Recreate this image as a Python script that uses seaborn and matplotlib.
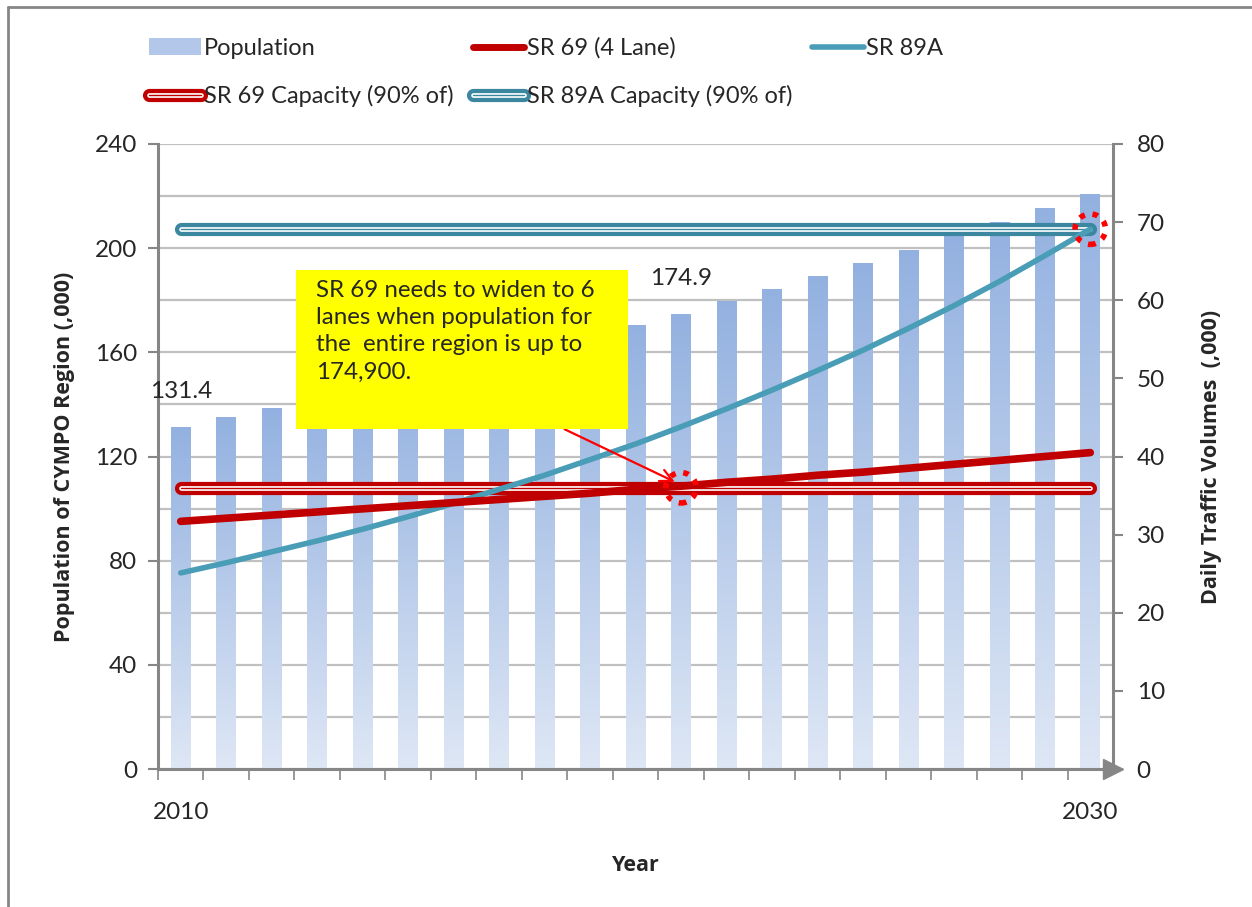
import numpy as np
import pandas as pd
import matplotlib
matplotlib.use("Agg")
import matplotlib.pyplot as plt
import matplotlib.patheffects as pe
from matplotlib.patches import Patch, Rectangle
from matplotlib.lines import Line2D
from matplotlib.colors import LinearSegmentedColormap
import seaborn as sns

# =========================================================
# Data
# =========================================================
years = list(range(2010, 2031))
population = [131.4, 135.2, 138.6, 142.1, 145.8, 149.7, 153.6, 157.7, 161.8, 166.1,
              170.5, 174.9, 179.8, 184.3, 189.3, 194.3, 199.3, 204.6, 210.0, 215.5, 220.8]
sr69 = [31.7, 32.1, 32.5, 32.9, 33.3, 33.7, 34.1, 34.5, 34.9, 35.3,
        35.8, 36.2, 36.7, 37.1, 37.6, 38.0, 38.5, 39.0, 39.5, 40.0, 40.5]
sr89a = [25.1, 26.4, 27.8, 29.2, 30.7, 32.3, 34.0, 35.8, 37.6, 39.6,
         41.6, 43.8, 46.1, 48.5, 51.0, 53.6, 56.4, 59.3, 62.4, 65.7, 69.1]
sr69_capacity = 36.0
sr89a_capacity = 69.1
labeled_years = [2010, 2021]
flag_points = [(2021, sr69_capacity), (2030, sr89a_capacity)]
note = "SR 69 needs to widen to 6\nlanes when population for\nthe  entire region is up to\n174,900."

# =========================================================
# Style
# =========================================================
RED = "#C00000"
TEAL = "#4A9DB6"
TEAL_CAP = "#3A879F"
GRAY = "#868686"
GRID = "#C0C0C0"
BAR_TOP = "#93B1E0"
BAR_BOTTOM = "#DEE7F5"
BOLD_FONT = ["Open Sans", "DejaVu Sans"]
TICK_FS = 17.5
LABEL_FS = 15.5

sns.set_theme(style="white")
plt.rcParams["font.family"] = ["Lato", "DejaVu Sans"]
plt.rcParams["font.size"] = 17

df = pd.DataFrame({"year": years, "population": population})
pos = np.arange(len(years))

fig = plt.figure(figsize=(12.52, 9.07), dpi=100)
ax = fig.add_axes([158 / 1252, 1 - 769 / 907, (1113 - 158) / 1252, (769 - 144) / 907])

# ---- bars (population) with vertical gradient ----
sns.barplot(data=df, x="year", y="population", ax=ax, width=0.43,
            color=BAR_TOP, saturation=1, zorder=2)
cmap = LinearSegmentedColormap.from_list("bar", [BAR_BOTTOM, BAR_TOP])
grad = np.linspace(0, 1, 256).reshape(-1, 1)
for p in ax.patches:
    x0, w, h = p.get_x(), p.get_width(), p.get_height()
    im = ax.imshow(grad, extent=[x0, x0 + w, 0, h], origin="lower", cmap=cmap,
                   aspect="auto", zorder=2)
    im.set_clip_path(p)
    p.set_facecolor("none")
    p.set_edgecolor("none")

ax.set_xlim(-0.5, len(years) - 0.5)
ax.set_ylim(0, 240)
ax.set_yticks(np.arange(0, 241, 40))
ax.set_yticks(np.arange(20, 241, 40), minor=True)
ax.grid(axis="y", which="both", color=GRID, lw=1.6, zorder=0)
ax.grid(axis="x", visible=False)
ax.set_axisbelow(True)
ax.tick_params(axis="y", which="major", direction="out", length=7, width=1.5,
               color=GRAY, labelsize=TICK_FS, pad=8, left=True)
ax.tick_params(axis="y", which="minor", length=0)

# x axis: tick marks at category boundaries, labels only at the ends
ax.set_xticks([0, len(years) - 1])
ax.set_xticklabels([str(years[0]), str(years[-1])])
ax.set_xticks(np.arange(-0.5, len(years) - 1, 1.0), minor=True)
ax.tick_params(axis="x", which="major", length=0, labelsize=TICK_FS, pad=24)
ax.tick_params(axis="x", which="minor", direction="out", length=8, width=1.2,
               color=GRAY, bottom=True)

for side in ["top", "right"]:
    ax.spines[side].set_visible(False)
for side in ["left", "bottom"]:
    ax.spines[side].set_color(GRAY)
    ax.spines[side].set_linewidth(2.2)
ax.plot([1.0], [0.0], marker=">", ms=14, color=GRAY, transform=ax.transAxes,
        clip_on=False, zorder=5)

ax.set_xlabel("Year", fontsize=LABEL_FS, fontweight="bold", family=BOLD_FONT, labelpad=23)
ax.set_ylabel("Population of CYMPO Region (,000)", fontsize=LABEL_FS, fontweight="bold",
              family=BOLD_FONT, labelpad=14)

for yr in labeled_years:
    i = years.index(yr)
    ax.annotate(f"{population[i]:.1f}", (i, population[i]), xytext=(0, 18),
                textcoords="offset points", ha="center", va="bottom", fontsize=17.5)

# ---- traffic lines on the right axis ----
ax2 = ax.twinx()
ax2.set_ylim(0, 80)
ax2.set_yticks(np.arange(0, 81, 10))
ax2.tick_params(axis="y", direction="out", length=7, width=1.5, color=GRAY,
                labelsize=TICK_FS, pad=10, right=True)
for side in ["top", "left", "bottom"]:
    ax2.spines[side].set_visible(False)
ax2.spines["right"].set_color(GRAY)
ax2.spines["right"].set_linewidth(2.2)
ax2.set_ylabel("Daily Traffic Volumes  (,000)", fontsize=LABEL_FS, fontweight="bold",
               family=BOLD_FONT, labelpad=26)
ax2.grid(False)


def capacity_line(value, color, label):
    ln, = ax2.plot(pos, [value] * len(pos), color=color, lw=1.0,
                   solid_capstyle="round", label=label, zorder=3,
                   path_effects=[pe.Stroke(linewidth=9.5, foreground=color, capstyle="round"),
                                 pe.Stroke(linewidth=3.4, foreground="white"),
                                 pe.Normal()])
    return ln


cap69 = capacity_line(sr69_capacity, RED, "SR 69 Capacity (90% of)")
cap89 = capacity_line(sr89a_capacity, TEAL_CAP, "SR 89A Capacity (90% of)")
sns.lineplot(x=pos, y=sr89a, ax=ax2, color=TEAL, lw=4, zorder=4, legend=False)
sns.lineplot(x=pos, y=sr69, ax=ax2, color=RED, lw=5.5, zorder=4, legend=False)
for ln in ax2.lines[-2:]:
    ln.set_solid_capstyle("round")

fx = [years.index(y) for y, _ in flag_points]
fy = [v for _, v in flag_points]
ax2.scatter(fx, fy, s=480, facecolors="none", edgecolors="#FF0000", linewidths=4,
            linestyle=(0, (1, 1.4)), zorder=6, clip_on=False)

# ---- annotation box + arrow ----
fig.patches.append(Rectangle((296 / 1252, 1 - 429 / 907), (628 - 296) / 1252,
                             (429 - 270) / 907, transform=fig.transFigure,
                             facecolor="#FFFF00", edgecolor="none", zorder=10))
fig.text(316 / 1252, 1 - 280 / 907, note, ha="left", va="top", fontsize=17.4,
         linespacing=1.36, zorder=11)
ax2.annotate("", xy=(years.index(2021) - 0.08, sr69_capacity + 0.6),
             xytext=(562 / 1252, 1 - 428 / 907), textcoords="figure fraction",
             arrowprops=dict(arrowstyle="->", color="#FF0000", lw=1.6,
                             mutation_scale=22), zorder=12)

# ---- legend ----
handles = [
    Patch(facecolor="#B3C7EA", edgecolor="none", label="Population"),
    cap69,
    Line2D([], [], color=RED, lw=5, solid_capstyle="round", label="SR 69 (4 Lane)"),
    cap89,
    Line2D([], [], color=TEAL, lw=4, solid_capstyle="round", label="SR 89A"),
]
fig.legend(handles=handles, ncol=3, loc="upper left",
           bbox_to_anchor=(128 / 1252, 1 - 16 / 907), frameon=False, fontsize=17,
           handlelength=2.2, handletextpad=0.12, labelspacing=1.1, columnspacing=0.8)

# outer chart border (top and left visible in the reference)
fig.add_artist(Line2D([8 / 1252, 8 / 1252], [0, 1 - 7 / 907], color=GRAY, lw=2,
                      transform=fig.transFigure))
fig.add_artist(Line2D([8 / 1252, 1], [1 - 7 / 907, 1 - 7 / 907], color=GRAY, lw=2,
                      transform=fig.transFigure))

fig.savefig("out.png", dpi=100)
